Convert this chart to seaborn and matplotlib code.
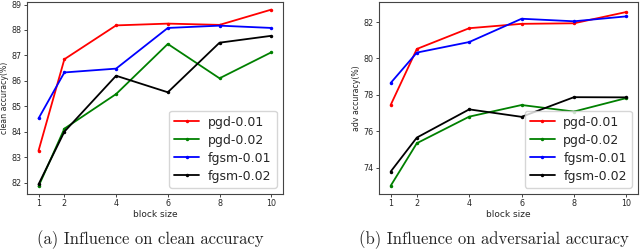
import seaborn as sns
import matplotlib.pyplot as plt

block_size = [1, 2, 4, 6, 8, 10]
series_names = ["pgd-0.01", "pgd-0.02", "fgsm-0.01", "fgsm-0.02"]
series_colors = ["red", "green", "blue", "black"]

# clean accuracy (%)
clean_pgd_001 = [83.25, 86.85, 88.18, 88.25, 88.2, 88.8]
clean_pgd_002 = [81.85, 84.12, 85.48, 87.45, 86.1, 87.12]
clean_fgsm_001 = [84.52, 86.33, 86.48, 88.08, 88.17, 88.08]
clean_fgsm_002 = [81.93, 84.0, 86.2, 85.55, 87.5, 87.77]

# adversarial accuracy (%)
adv_pgd_001 = [77.44, 80.52, 81.66, 81.9, 81.93, 82.55]
adv_pgd_002 = [73.0, 75.34, 76.8, 77.44, 77.08, 77.82]
adv_fgsm_001 = [78.65, 80.32, 80.9, 82.18, 82.04, 82.31]
adv_fgsm_002 = [73.78, 75.65, 77.2, 76.79, 77.87, 77.86]

sns.set_style("white")

fig = plt.figure(figsize=(6.4, 2.5), dpi=100)
ax1 = fig.add_axes([0.042, 0.224, 0.400, 0.768])
ax2 = fig.add_axes([0.592, 0.224, 0.405, 0.768])


def draw(ax, all_series, ylabel, yticks):
    for name, color, vals in zip(series_names, series_colors, all_series):
        sns.lineplot(x=block_size, y=vals, ax=ax, color=color, label=name,
                     marker=".", markersize=5, markeredgewidth=0, linewidth=1.3)
    ax.set_xticks(block_size)
    ax.set_yticks(yticks)
    ax.tick_params(axis="both", labelsize=5.8, length=2.5, width=0.6, pad=1.2,
                   direction="out", left=True, bottom=True)
    ax.set_xlabel("block size", fontsize=6.5, labelpad=1)
    ax.set_ylabel(ylabel, fontsize=5.6)
    for sp in ax.spines.values():
        sp.set_color("#444444")
        sp.set_linewidth(0.8)
    ax.legend(loc="lower right", fontsize=9, handlelength=2.0, borderpad=0.4,
              labelspacing=0.4, handletextpad=0.7, frameon=True)


draw(ax1, [clean_pgd_001, clean_pgd_002, clean_fgsm_001, clean_fgsm_002],
     "clean accuracy(%)", [82, 83, 84, 85, 86, 87, 88, 89])
ax1.set_ylim(81.55, 89.1)
ax1.yaxis.set_label_coords(-0.068, 0.5)

draw(ax2, [adv_pgd_001, adv_pgd_002, adv_fgsm_001, adv_fgsm_002],
     "adv accuracy(%)", [74, 76, 78, 80, 82])
ax2.set_ylim(72.55, 83.1)
ax2.yaxis.set_label_coords(-0.068, 0.5)

fig.text(0.058, 0.04, "(a) Influence on clean accuracy", fontsize=12,
         family=["cmr10", "DejaVu Serif"], ha="left", va="center")
fig.text(0.561, 0.04, "(b) Influence on adversarial accuracy", fontsize=12,
         family=["cmr10", "DejaVu Serif"], ha="left", va="center")

fig.savefig("out.png", dpi=100)
